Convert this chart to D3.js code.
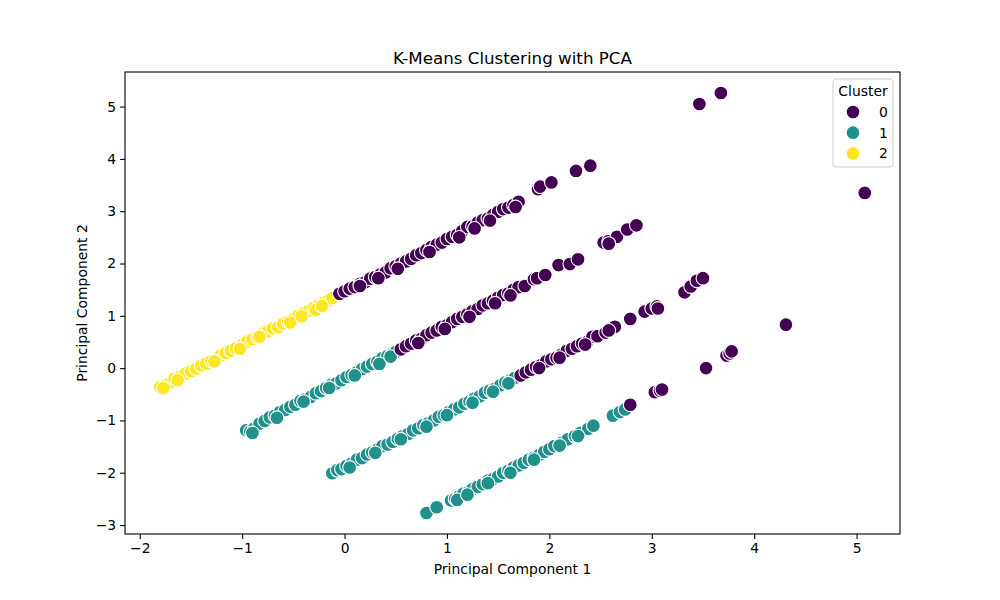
<!DOCTYPE html>
<html>
<head>
<meta charset="utf-8">
<script src="https://cdn.jsdelivr.net/npm/d3@7"></script>
<style>
  body { margin: 0; background: #fff; }
  svg text { font-family: "DejaVu Sans", sans-serif; fill: #000; }
</style>
</head>
<body>
<svg id="chart" width="1000" height="600"></svg>
<script>
// cluster labels and viridis colours used by the legend
var clusters = [0, 1, 2];
var clusterColors = ["#440154", "#21918c", "#fde725"];

// points, one array per band and cluster: [pc1, pc2]
var band1Cluster2 = [
  [-1.80,-0.36],[-1.75,-0.33],[-1.70,-0.27],[-1.66,-0.20],[-1.61,-0.17],[-1.55,-0.10],
  [-1.50,-0.06],[-1.45,-0.01],[-1.40,0.05],[-1.35,0.09],[-1.30,0.14],[-1.26,0.17],
  [-1.21,0.24],[-1.16,0.29],[-1.11,0.33],[-1.06,0.38],[-1.00,0.44],[-0.95,0.51],
  [-0.90,0.55],[-0.85,0.59],[-0.80,0.66],[-0.75,0.70],[-0.70,0.76],[-0.65,0.78],
  [-0.60,0.85],[-0.55,0.89],[-0.50,0.94],[-0.45,1.01],[-0.40,1.05],[-0.35,1.09],
  [-0.30,1.15],[-0.25,1.20],[-0.20,1.26],[-0.16,1.29],[-0.12,1.34],
  [-1.77,-0.38],[-1.63,-0.23],[-1.27,0.13],[-1.02,0.37],[-0.83,0.60],[-0.53,0.87],
  [-0.42,0.99],[-0.28,1.11],[-0.22,1.19]
];
var band1Cluster0 = [
  [-0.05,1.42],[0.00,1.47],[0.05,1.52],[0.10,1.55],[0.15,1.61],[0.20,1.64],
  [0.25,1.71],[0.30,1.74],[0.35,1.79],[0.40,1.83],[0.45,1.91],[0.50,1.95],
  [0.55,2.00],[0.60,2.04],[0.65,2.09],[0.70,2.16],[0.75,2.20],[0.80,2.26],
  [0.85,2.32],[0.90,2.36],[0.95,2.40],[1.00,2.47],[1.05,2.51],[1.10,2.55],
  [1.15,2.62],[1.20,2.70],[1.25,2.71],[1.30,2.78],[1.35,2.83],[1.40,2.86],
  [1.45,2.93],[1.50,2.99],[1.55,3.04],[1.60,3.07],[1.65,3.12],[1.70,3.18],
  [1.89,3.42],[1.91,3.47],[2.02,3.55],[2.26,3.77],[2.40,3.87],
  [3.465,5.05],[3.675,5.26],
  [0.15,1.57],[0.33,1.72],[0.52,1.90],[0.83,2.22],[1.12,2.50],[1.27,2.67],
  [1.42,2.82],[1.67,3.08]
];
var band2Cluster1 = [
  [-0.96,-1.19],[-0.92,-1.21],[-0.88,-1.15],[-0.83,-1.06],[-0.78,-1.01],[-0.73,-0.94],
  [-0.68,-0.91],[-0.63,-0.84],[-0.58,-0.80],[-0.53,-0.74],[-0.48,-0.70],[-0.43,-0.63],
  [-0.38,-0.59],[-0.33,-0.55],[-0.28,-0.48],[-0.23,-0.44],[-0.18,-0.38],[-0.13,-0.32],
  [-0.08,-0.29],[-0.03,-0.23],[0.02,-0.17],[0.07,-0.13],[0.12,-0.08],[0.17,-0.02],
  [0.22,0.03],[0.27,0.08],[0.32,0.12],[0.37,0.19],[0.42,0.23],[0.47,0.28],[0.50,0.31],
  [-0.90,-1.24],[-0.66,-0.95],[-0.40,-0.64],[-0.15,-0.38],[0.10,-0.14],[0.34,0.08],[0.45,0.22]
];
var band2Cluster0 = [
  [0.55,0.36],[0.60,0.42],[0.65,0.47],[0.70,0.53],[0.75,0.56],[0.80,0.63],
  [0.85,0.68],[0.90,0.72],[0.95,0.79],[1.00,0.82],[1.05,0.88],[1.10,0.94],
  [1.15,0.98],[1.20,1.03],[1.25,1.09],[1.30,1.13],[1.35,1.20],[1.40,1.24],
  [1.45,1.29],[1.50,1.35],[1.55,1.40],[1.60,1.43],[1.65,1.50],[1.70,1.55],
  [1.76,1.57],[1.85,1.70],[1.88,1.72],[1.96,1.78],[2.09,1.97],[2.20,1.99],
  [2.28,2.08],[2.53,2.40],[2.58,2.43],[2.66,2.51],[2.76,2.65],[2.85,2.73],
  [0.72,0.48],[0.98,0.75],[1.22,0.98],[1.47,1.24],[1.62,1.39],[2.58,2.38]
];
var band3Cluster1 = [
  [-0.12,-2.01],[-0.07,-1.95],[-0.03,-1.93],[0.02,-1.87],[0.07,-1.82],[0.12,-1.75],
  [0.17,-1.72],[0.22,-1.65],[0.27,-1.61],[0.32,-1.56],[0.37,-1.49],[0.42,-1.46],
  [0.47,-1.41],[0.52,-1.35],[0.57,-1.30],[0.62,-1.26],[0.67,-1.19],[0.72,-1.15],
  [0.77,-1.09],[0.82,-1.05],[0.87,-1.00],[0.92,-0.93],[0.97,-0.90],[1.02,-0.84],
  [1.07,-0.79],[1.12,-0.75],[1.17,-0.68],[1.22,-0.64],[1.27,-0.58],[1.32,-0.54],
  [1.37,-0.47],[1.42,-0.43],[1.47,-0.39],[1.52,-0.33],[1.57,-0.27],[1.62,-0.23],[1.66,-0.19],
  [0.05,-1.90],[0.30,-1.62],[0.55,-1.36],[0.80,-1.12],[1.00,-0.90],[1.25,-0.66],
  [1.45,-0.45],[1.60,-0.29]
];
var band3Cluster0 = [
  [1.72,-0.14],[1.77,-0.08],[1.82,-0.03],[1.87,0.02],[1.92,0.06],[1.97,0.13],
  [2.02,0.17],[2.07,0.20],[2.12,0.26],[2.17,0.33],[2.22,0.37],[2.27,0.42],
  [2.32,0.47],[2.37,0.50],[2.42,0.60],[2.47,0.61],[2.55,0.68],[2.60,0.74],
  [2.64,0.79],[2.79,0.94],[2.93,1.08],[3.00,1.14],[3.05,1.18],[3.32,1.45],
  [3.38,1.56],[3.44,1.67],[3.50,1.72],[5.08,3.35],
  [1.90,0.00],[2.10,0.20],[2.35,0.45],[2.58,0.72],[3.06,1.14]
];
var band4Cluster1 = [
  [0.80,-2.77],[0.90,-2.66],[1.04,-2.53],[1.08,-2.50],[1.12,-2.45],[1.16,-2.40],
  [1.21,-2.37],[1.25,-2.31],[1.30,-2.27],[1.35,-2.22],[1.40,-2.15],[1.45,-2.12],
  [1.50,-2.07],[1.55,-2.00],[1.60,-1.96],[1.65,-1.90],[1.70,-1.86],[1.75,-1.81],
  [1.80,-1.75],[1.85,-1.71],[1.90,-1.66],[1.95,-1.60],[2.00,-1.55],[2.05,-1.49],
  [2.12,-1.43],[2.18,-1.36],[2.25,-1.30],[2.30,-1.24],[2.38,-1.16],[2.43,-1.10],
  [2.62,-0.91],[2.69,-0.84],[2.74,-0.79],
  [1.10,-2.52],[1.20,-2.42],[1.40,-2.20],[1.62,-2.00],[1.85,-1.75],[2.10,-1.48],[2.28,-1.30]
];
var band4Cluster0 = [
  [2.79,-0.70],[3.03,-0.46],[3.08,-0.43],[3.10,-0.41],[3.53,0.00],
  [3.73,0.24],[3.76,0.28],[3.78,0.32],[4.31,0.83]
];

var bands = [
  {cluster: 2, pts: band1Cluster2}, {cluster: 0, pts: band1Cluster0},
  {cluster: 1, pts: band2Cluster1}, {cluster: 0, pts: band2Cluster0},
  {cluster: 1, pts: band3Cluster1}, {cluster: 0, pts: band3Cluster0},
  {cluster: 1, pts: band4Cluster1}, {cluster: 0, pts: band4Cluster0}
];
var data = [];
bands.forEach(function(b) {
  b.pts.forEach(function(p) { data.push({x: p[0], y: p[1], cluster: b.cluster}); });
});

var margin = {top: 72, right: 100, bottom: 66, left: 125};
var width = 1000 - margin.left - margin.right,
    height = 600 - margin.top - margin.bottom;

var svg = d3.select("#chart");
var g = svg.append("g").attr("transform", "translate(" + margin.left + "," + margin.top + ")");

// matplotlib style 5% padding around the data
function padded(ext) {
  var pad = (ext[1] - ext[0]) * 0.05;
  return [ext[0] - pad, ext[1] + pad];
}
var x = d3.scaleLinear().domain(padded(d3.extent(data, function(d) { return d.x; }))).range([0, width]);
var y = d3.scaleLinear().domain(padded(d3.extent(data, function(d) { return d.y; }))).range([height, 0]);
var color = d3.scaleOrdinal().domain(clusters).range(clusterColors);

// points
g.append("g").selectAll("circle")
  .data(data)
  .enter().append("circle")
  .attr("cx", function(d) { return x(d.x); })
  .attr("cy", function(d) { return y(d.y); })
  .attr("r", 6.9)
  .attr("fill", function(d) { return color(d.cluster); })
  .attr("stroke", "#fff")
  .attr("stroke-width", 1.1);

// axes
var xAxis = g.append("g").attr("transform", "translate(0," + height + ")")
  .call(d3.axisBottom(x).ticks(8).tickFormat(d3.format("d")).tickSizeOuter(0).tickSize(4.9).tickPadding(4));
var yAxis = g.append("g")
  .call(d3.axisLeft(y).ticks(9).tickFormat(d3.format("d")).tickSizeOuter(0).tickSize(4.9).tickPadding(4));
[xAxis, yAxis].forEach(function(a) {
  a.select(".domain").remove();
  a.selectAll(".tick line").attr("stroke", "#000").attr("stroke-width", 1.1);
  a.selectAll(".tick text").attr("font-size", "13.9px").attr("font-family", "DejaVu Sans");
});

// frame
g.append("rect")
  .attr("width", width).attr("height", height)
  .attr("fill", "none").attr("stroke", "#000").attr("stroke-width", 1.1);

// titles
svg.append("text")
  .attr("x", margin.left + width / 2).attr("y", 64)
  .attr("text-anchor", "middle").attr("font-size", "16.7px")
  .text("K-Means Clustering with PCA");
svg.append("text")
  .attr("x", margin.left + width / 2).attr("y", 574)
  .attr("text-anchor", "middle").attr("font-size", "13.9px")
  .text("Principal Component 1");
svg.append("text")
  .attr("transform", "translate(87," + (margin.top + height / 2) + ") rotate(-90)")
  .attr("text-anchor", "middle").attr("font-size", "13.9px")
  .text("Principal Component 2");

// legend
var legend = svg.append("g").attr("transform", "translate(833,79)");
legend.append("rect")
  .attr("width", 60).attr("height", 88).attr("rx", 3)
  .attr("fill", "#fff").attr("fill-opacity", 0.8)
  .attr("stroke", "#ccc").attr("stroke-width", 1);
legend.append("text")
  .attr("x", 30).attr("y", 17).attr("text-anchor", "middle").attr("font-size", "13.9px")
  .text("Cluster");
var item = legend.selectAll(".item")
  .data(clusters)
  .enter().append("g")
  .attr("transform", function(d, i) { return "translate(0," + (33 + i * 20.7) + ")"; });
item.append("circle")
  .attr("cx", 20).attr("r", 6.9)
  .attr("fill", function(d) { return color(d); })
  .attr("stroke", "#fff").attr("stroke-width", 1.1);
item.append("text")
  .attr("x", 46).attr("y", 5).attr("font-size", "13.9px")
  .text(function(d) { return d; });
</script>
</body>
</html>
